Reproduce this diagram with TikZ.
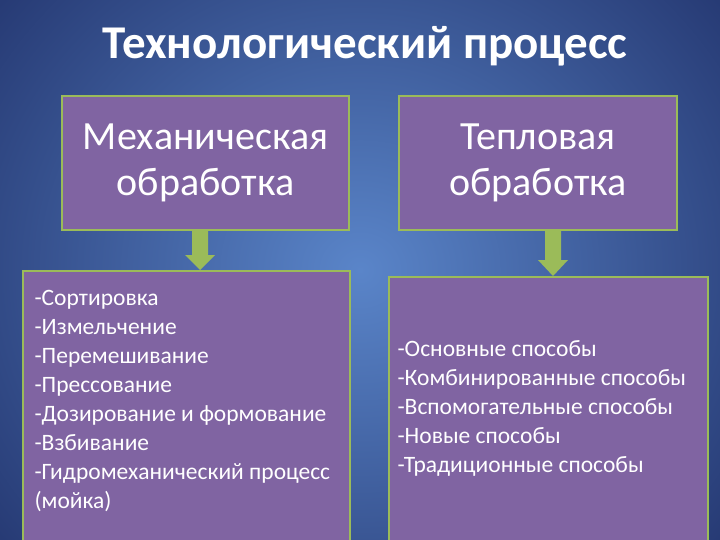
\documentclass[tikz,border=0pt]{standalone}
\usepackage{fontspec}
\setmainfont{Carlito}
\usetikzlibrary{calc}
\definecolor{boxfill}{HTML}{8064A2}
\definecolor{boxline}{HTML}{9BBB59}
\definecolor{bgin}{HTML}{5A85C9}
\definecolor{bgout}{HTML}{1C2B63}
\tikzset{
  box/.style={draw=boxline, line width=1.5pt, fill=boxfill, text=white, inner sep=0pt},
  head/.style={box, font=\fontsize{40}{46}\selectfont, align=center},
  arr/.style={fill=boxline}
}
\begin{document}
\begin{tikzpicture}[x=1pt,y=-1pt]
\useasboundingbox (0,0) rectangle (720,540);
\shade[inner color=bgin, outer color=bgout] (-200,-250) rectangle (920,790);
\node[font=\bfseries\fontsize{47}{50}\selectfont, text=white] (title) at (365,46) {Технологический процесс};
\node[head, minimum width=287, minimum height=134] (mech) at (205.5,163) {Механическая\\обработка};
\node[head, minimum width=278, minimum height=134] (heat) at (538,163) {Тепловая\\обработка};
\node[box, minimum width=327, minimum height=275, anchor=north west] (mlist) at (22,270) {};
\node[box, minimum width=319, minimum height=270, anchor=north west] (hlist) at (388,276) {};
\node[font=\fontsize{23.5}{29}\selectfont, text=white, align=left, anchor=north west] (mtext) at (31,287)
 {-Сортировка\\-Измельчение\\-Перемешивание\\-Прессование\\-Дозирование и формование\\-Взбивание\\-Гидромеханический процесс\\(мойка)};
\node[font=\fontsize{23.5}{29}\selectfont, text=white, align=left, anchor=north west] (htext) at (394,337)
 {-Основные способы\\-Комбинированные способы\\-Вспомогательные способы\\-Новые способы\\-Традиционные способы};
\fill[arr] (mech.south -| 192,0) -- (mech.south -| 208,0) -- (208,255) -- (215,255) -- (mlist.north -| 200,0) -- (185,255) -- (192,255) -- cycle;
\fill[arr] (heat.south -| 545,0) -- (heat.south -| 561,0) -- (561,260) -- (568,260) -- (hlist.north -| 553,0) -- (538,260) -- (545,260) -- cycle;
\end{tikzpicture}
\end{document}
